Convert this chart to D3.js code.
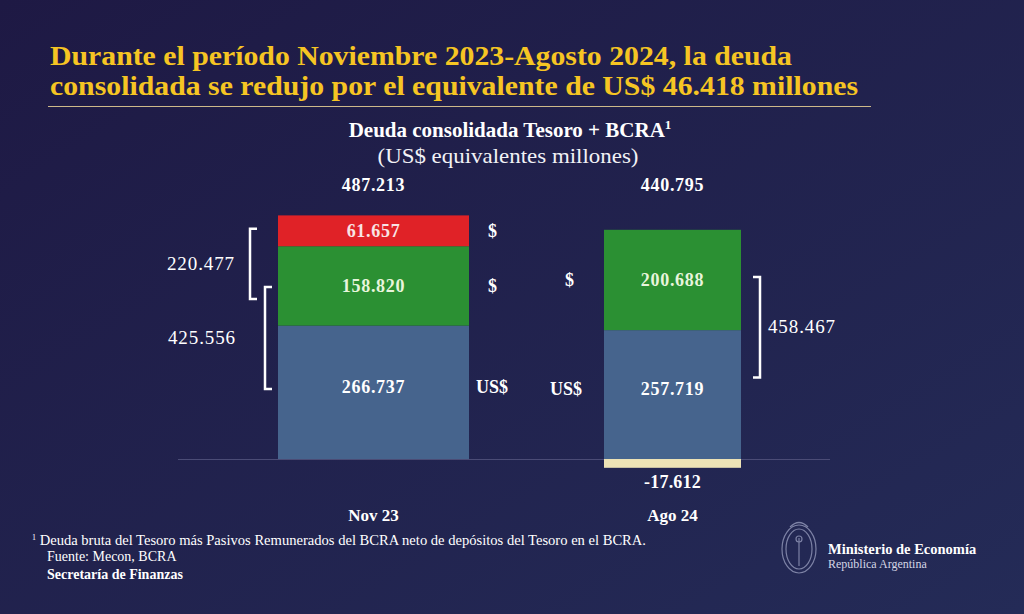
<!DOCTYPE html>
<html><head><meta charset="utf-8">
<script src="https://cdn.jsdelivr.net/npm/d3@7"></script>
<style>
html,body{margin:0;padding:0;background:#1f1c46;}
svg{display:block;}
</style></head>
<body>
<svg id="chart" width="1024" height="614"></svg>
<script>
// ---- data ----
const categories = ["Nov 23", "Ago 24"];
const usdValues = [266.737, 257.719];
const pesoValues = [158.820, 200.688];
const pesoCapValues = [61.657, 0];
const negativeValues = [0, -17.612];
const totalLabels = ["487.213", "440.795"];
const usdLabels = ["266.737", "257.719"];
const pesoLabels = ["158.820", "200.688"];
const pesoCapLabels = ["61.657", ""];
const negativeLabels = ["", "-17.612"];
const bracketLabelsNov = ["220.477", "425.556"];
const bracketLabelsAgo = ["458.467"];
const currencyLabels = ["$", "$", "US$"];

const title1 = "Durante el período Noviembre 2023-Agosto 2024, la deuda";
const title2 = "consolidada se redujo por el equivalente de US$ 46.418 millones";

const svg = d3.select("#chart");
const W = 1024, H = 614;
const serif = "'Liberation Serif','DejaVu Serif',serif";

// background gradient
const defs = svg.append("defs");
const grad = defs.append("linearGradient").attr("id","bg").attr("x1","0").attr("y1","0").attr("x2","1").attr("y2","1");
grad.append("stop").attr("offset","0%").attr("stop-color","#1e1944");
grad.append("stop").attr("offset","100%").attr("stop-color","#242b57");
svg.append("rect").attr("width",W).attr("height",H).attr("fill","url(#bg)");

// title
const yellow = "#f6c523";
svg.append("text").attr("x",50).attr("y",65).text(title1)
  .attr("font-family",serif).attr("font-weight","bold").attr("font-size",27).attr("fill",yellow)
  .attr("textLength",742).attr("lengthAdjust","spacingAndGlyphs");
svg.append("text").attr("x",50).attr("y",95).text(title2)
  .attr("font-family",serif).attr("font-weight","bold").attr("font-size",27).attr("fill",yellow)
  .attr("textLength",808).attr("lengthAdjust","spacingAndGlyphs");
svg.append("line").attr("x1",48).attr("x2",871).attr("y1",106.5).attr("y2",106.5)
  .attr("stroke","#cdb98a").attr("stroke-width",1.2);

// subtitle
const st = svg.append("text").attr("x",510).attr("y",137).attr("text-anchor","middle")
  .attr("font-family",serif).attr("font-weight","bold").attr("font-size",21).attr("fill","#ffffff");
st.append("tspan").text("Deuda consolidada Tesoro + BCRA");
st.append("tspan").text("1").attr("font-size",13).attr("dy",-8);
svg.append("text").attr("x",508).attr("y",163).attr("text-anchor","middle")
  .attr("font-family",serif).attr("font-size",22).attr("fill","#f2f2f6")
  .attr("textLength",261).attr("lengthAdjust","spacingAndGlyphs")
  .text("(US$ equivalentes millones)");

// scales
const x = d3.scalePoint().domain(categories).range([373.5, 672.5]);
const y = d3.scaleLinear().domain([0, 500]).range([459, 209]);
const barWidth = {"Nov 23": 191, "Ago 24": 137};

const colors = {usd:"#46648d", peso:"#2b9033", cap:"#e02227", neg:"#ede3b6"};

// baseline
svg.append("line").attr("x1",178).attr("x2",830).attr("y1",y(0)+0.5).attr("y2",y(0)+0.5)
  .attr("stroke","#4b4c76").attr("stroke-width",1);

// build stacked segments
const segs = [];
categories.forEach((c,i)=>{
  let base = 0;
  const parts = [
    {key:"usd", v:usdValues[i], label:usdLabels[i]},
    {key:"peso", v:pesoValues[i], label:pesoLabels[i]},
    {key:"cap", v:pesoCapValues[i], label:pesoCapLabels[i]}
  ];
  parts.forEach(p=>{
    if(p.v>0){ segs.push({cat:c, key:p.key, y0:base, y1:base+p.v, label:p.label}); base += p.v; }
  });
  if(negativeValues[i]<0) segs.push({cat:c, key:"neg", y0:negativeValues[i], y1:0, label:negativeLabels[i]});
});

svg.append("g").selectAll("rect").data(segs).join("rect")
  .attr("x",d=>x(d.cat)-barWidth[d.cat]/2)
  .attr("width",d=>barWidth[d.cat])
  .attr("y",d=>y(d.y1))
  .attr("height",d=>y(d.y0)-y(d.y1))
  .attr("fill",d=>colors[d.key]);

const labelStyle = sel => sel.attr("font-family",serif).attr("font-weight","bold").attr("font-size",18)
  .attr("letter-spacing",0.7).attr("fill","#ffffff");

const midY = d => d.key==="usd" ? y(d.y0+(d.y1-d.y0)*0.54) : (y(d.y0)+y(d.y1))/2;

// in-bar labels
svg.append("g").selectAll("text").data(segs.filter(d=>d.key!=="neg")).join("text")
  .attr("x",d=>x(d.cat)).attr("y",d=>midY(d)+6)
  .attr("text-anchor","middle").text(d=>d.label).call(labelStyle)
  .attr("fill",d=>d.key==="peso"?"#e8f5dc":(d.key==="cap"?"#f8e4e4":"#ffffff"));

// negative label
svg.append("g").selectAll("text").data(segs.filter(d=>d.key==="neg")).join("text")
  .attr("x",d=>x(d.cat)).attr("y",d=>y(d.y0)+20).attr("text-anchor","middle").text(d=>d.label).call(labelStyle)
  .attr("letter-spacing",0.2);

// total labels
svg.append("g").selectAll("text").data(categories).join("text")
  .attr("x",c=>x(c)).attr("y",191).attr("text-anchor","middle")
  .text((c,i)=>totalLabels[i]).call(labelStyle);

// category labels
svg.append("g").selectAll("text").data(categories).join("text")
  .attr("x",c=>x(c)).attr("y",521).attr("text-anchor","middle")
  .text(c=>c).call(labelStyle).attr("font-size",17).attr("letter-spacing",0);

// currency labels
const novSegs = segs.filter(d=>d.cat==="Nov 23");
const agoSegs = segs.filter(d=>d.cat==="Ago 24" && d.key!=="neg");
const curByKey = {cap:currencyLabels[0], peso:currencyLabels[1], usd:currencyLabels[2]};
svg.append("g").selectAll("text").data(novSegs).join("text")
  .attr("x",d=>x(d.cat)+barWidth[d.cat]/2+ (d.key==="usd"?7:19)).attr("y",d=>midY(d)+6)
  .attr("text-anchor","start").text(d=>curByKey[d.key]).call(labelStyle).attr("letter-spacing",0);
svg.append("g").selectAll("text").data(agoSegs).join("text")
  .attr("x",d=>x(d.cat)-barWidth[d.cat]/2-(d.key==="usd"?22:30)).attr("y",d=>midY(d)+6)
  .attr("text-anchor","end").text(d=>curByKey[d.key]).call(labelStyle).attr("letter-spacing",0);

// brackets
function bracket(xv, yTop, yBot, dir, label, lx){
  const g = svg.append("g");
  const t = 7*dir;
  g.append("path").attr("d",`M${xv+t},${yTop}H${xv}V${yBot}H${xv+t}`)
    .attr("fill","none").attr("stroke","#ffffff").attr("stroke-width",2.5);
  g.append("text").attr("x",lx).attr("y",(yTop+yBot)/2+6).attr("text-anchor","middle")
    .text(label).call(labelStyle).attr("font-weight","normal").attr("font-size",19).attr("letter-spacing",0.9);
}
const nov = {cap:novSegs.find(d=>d.key==="cap"), peso:novSegs.find(d=>d.key==="peso"), usd:novSegs.find(d=>d.key==="usd")};
const novLeft = x("Nov 23")-barWidth["Nov 23"]/2;
bracket(novLeft-28, midY(nov.cap)-2, midY(nov.peso)+13, 1, bracketLabelsNov[0], 201);
bracket(novLeft-13, midY(nov.peso)+1, midY(nov.usd)+2, 1, bracketLabelsNov[1], 202);
const ago = {peso:agoSegs.find(d=>d.key==="peso"), usd:agoSegs.find(d=>d.key==="usd")};
const agoRight = x("Ago 24")+barWidth["Ago 24"]/2;
bracket(agoRight+19, midY(ago.peso)-3, midY(ago.usd)-12, -1, bracketLabelsAgo[0], 802);

// footnotes
const fn = svg.append("text").attr("x",32).attr("y",545).attr("font-family",serif).attr("font-size",14).attr("fill","#ffffff");
fn.append("tspan").text("1").attr("font-size",8).attr("dy",-5);
fn.append("tspan").text(" Deuda bruta del Tesoro más Pasivos Remunerados del BCRA neto de depósitos del Tesoro en el BCRA.").attr("dy",5)
  .attr("textLength",610).attr("lengthAdjust","spacingAndGlyphs");
svg.append("text").attr("x",47).attr("y",561).attr("font-family",serif).attr("font-size",14).attr("fill","#ffffff").text("Fuente: Mecon, BCRA");
svg.append("text").attr("x",47).attr("y",579).attr("font-family",serif).attr("font-weight","bold").attr("font-size",14).attr("fill","#ffffff").text("Secretaría de Finanzas");

// logo
const lg = svg.append("g").attr("fill","none").attr("stroke","#8d92b4").attr("stroke-width",1.2).attr("opacity",0.85);
lg.append("ellipse").attr("cx",799).attr("cy",549).attr("rx",17).attr("ry",24);
lg.append("ellipse").attr("cx",799).attr("cy",549).attr("rx",13).attr("ry",20);
lg.append("line").attr("x1",799).attr("x2",799).attr("y1",538).attr("y2",566);
lg.append("circle").attr("cx",799).attr("cy",539).attr("r",3);
lg.append("path").attr("d","M790,527 Q799,518 808,527");
svg.append("text").attr("x",828).attr("y",554).attr("font-family",serif).attr("font-weight","bold").attr("font-size",14.5).attr("fill","#ffffff").text("Ministerio de Economía");
svg.append("text").attr("x",828).attr("y",568).attr("font-family",serif).attr("font-size",12).attr("fill","#d4d6e6").text("República Argentina");
</script>
</body></html>
